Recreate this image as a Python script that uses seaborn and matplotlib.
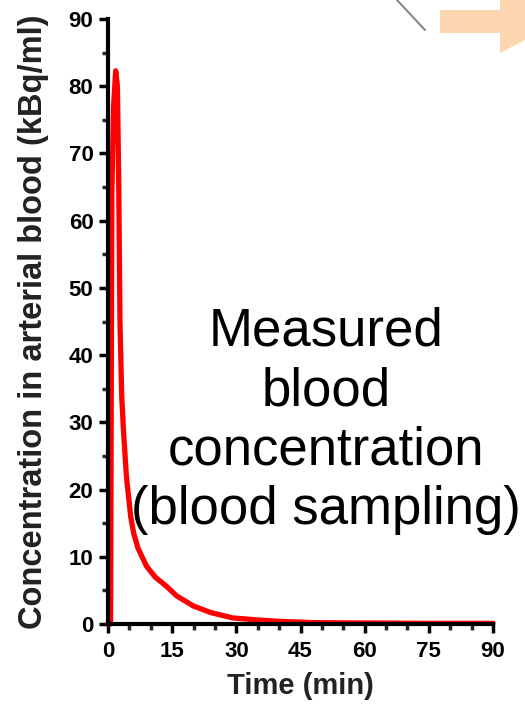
import matplotlib
matplotlib.use("Agg")
import matplotlib.pyplot as plt
import seaborn as sns
import pandas as pd
from matplotlib.patches import Polygon
from matplotlib.lines import Line2D
from matplotlib.ticker import MultipleLocator

time_min = [0, 0.6, 0.9, 1.3, 1.8, 2.2, 2.5, 2.8, 3.2, 3.6, 4.3, 5.3, 6.0, 7.0, 9.0, 11.0, 13.7, 16.0, 19.9, 24.0, 29.2, 35.0, 40.0, 48.0, 60.0, 75.0, 90.0]
conc = [0, 0, 64, 77, 82.3, 80, 66, 45, 34, 29, 22, 16, 13.5, 11.3, 8.6, 7.0, 5.6, 4.2, 2.7, 1.7, 0.9, 0.6, 0.4, 0.2, 0.15, 0.1, 0.1]
x_ticks = [0, 15, 30, 45, 60, 75, 90]
y_ticks = [0, 10, 20, 30, 40, 50, 60, 70, 80, 90]

sns.set_style("ticks")
plt.rcParams['font.family'] = ['Liberation Sans', 'DejaVu Sans']

df = pd.DataFrame({"Time": time_min, "Conc": conc})
fig = plt.figure(figsize=(5.25, 7.05), dpi=100)
ax = fig.add_axes([108/525, 1-624/705, 385/525, 605/705])
sns.lineplot(data=df, x="Time", y="Conc", ax=ax, color="#ff0000", linewidth=3.8, clip_on=False)
ax.set_xlim(0, 90)
ax.set_ylim(0, 90)
ax.set_xticks(x_ticks)
ax.set_yticks(y_ticks)
ax.xaxis.set_minor_locator(MultipleLocator(5))
ax.yaxis.set_minor_locator(MultipleLocator(5))
ax.tick_params(axis='both', which='major', length=6.5, width=2.5, labelsize=16, colors='black', pad=4)
ax.tick_params(axis='x', which='major', pad=6)
ax.tick_params(axis='both', which='minor', length=4.5, width=2.5)
for lab in ax.get_xticklabels() + ax.get_yticklabels():
    lab.set_fontweight('bold')
for s in ['left', 'bottom']:
    ax.spines[s].set_linewidth(3)
    ax.spines[s].set_color('black')
sns.despine(ax=ax)
ax.set_xlabel("Time (min)", fontsize=21, fontweight='bold', color='#222222', labelpad=7)
ax.set_ylabel("Concentration in arterial blood (kBq/ml)", fontsize=23.5, fontweight='bold', color='#222222', labelpad=14)
ax.text(0.566, 0.336, "Measured\nblood\nconcentration\n(blood sampling)", transform=ax.transAxes,
        ha='center', va='center', fontsize=38, linespacing=1.24, color='black')

# decorative fragments at top right
fig.add_artist(Line2D([397/525, 425/525], [1, 1-30/705], color='#888888', lw=1.5))
arrow = Polygon([[440/525, 1-10/705], [500/525, 1-10/705], [500/525, 1], [525/525, 1],
                 [525/525, 1-40/705], [500/525, 1-53/705], [500/525, 1-33/705], [440/525, 1-33/705]],
                closed=True, transform=fig.transFigure, facecolor='#fdd5b1', edgecolor='none')
fig.add_artist(arrow)

fig.savefig("out.png", dpi=100)
